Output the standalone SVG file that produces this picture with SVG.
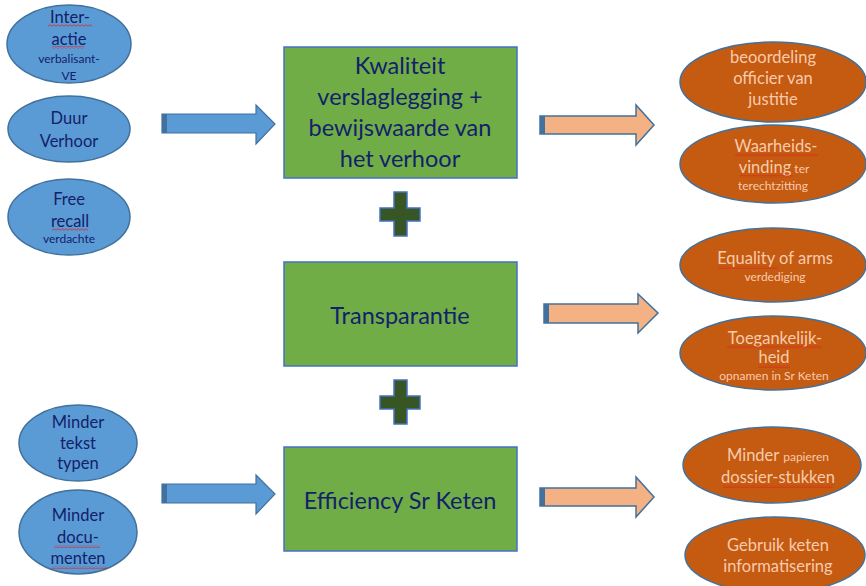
<svg xmlns="http://www.w3.org/2000/svg" width="866" height="586" viewBox="0 0 866 586">
<style>
.bg{fill:#ffffff}
.ein{fill:#5B9BD5;stroke:#41719C;stroke-width:1.5}
.eout{fill:#C55A11;stroke:#41719C;stroke-width:1.5}
.box{fill:#70AD47;stroke:#4472C4;stroke-width:1.5}
.arB{fill:#5B9BD5;stroke:#41719C;stroke-width:1.2}
.arO{fill:#F4B183;stroke:#41719C;stroke-width:1.5}
.strip{fill:#41719C}
.plus{fill:#375623;stroke:#4472C4;stroke-width:1.5}
text{font-family:Lato,"Liberation Sans",sans-serif;text-anchor:middle}
.tin{fill:#13216A;font-size:16.5px}
.tout{fill:#F8CBAD;font-size:16.5px}
.sm{font-size:12px}
.tbox{fill:#13216A;font-size:23.5px}
.wavy{fill:url(#wave)}
</style>
<defs>
<pattern id="wave" width="4" height="3" patternUnits="userSpaceOnUse">
<path d="M0,2.3 L2,0.7 L4,2.3" fill="none" stroke="#E02020" stroke-width="0.8"/>
</pattern>
</defs>
<rect class="bg" x="0" y="0" width="866" height="586"/>

<g id="connectors">
<g id="arrow-in-1"><polygon class="arB" points="162,114 256,114 256,105 275,124 256,144 256,133 162,133"/><rect class="strip" x="162" y="114" width="5" height="19"/></g>
<g id="arrow-in-2"><polygon class="arB" points="162,484 256,484 256,475 275,494 256,514 256,503 162,503"/><rect class="strip" x="162" y="484" width="5" height="19"/></g>
<g id="arrow-out-1"><polygon class="arO" points="540,116 636,116 636,105 654,125 636,145 636,134 540,134"/><rect class="strip" x="540" y="116" width="5" height="18"/></g>
<g id="arrow-out-2"><polygon class="arO" points="544,304 638,304 638,294 658,313 638,333 638,323 544,323"/><rect class="strip" x="544" y="304" width="5" height="19"/></g>
<g id="arrow-out-3"><polygon class="arO" points="540,488 636,488 636,477 654,497 636,517 636,506 540,506"/><rect class="strip" x="540" y="488" width="5" height="18"/></g>
<g id="plus-1"><polygon class="plus" points="394,192 407,192 407,208 420,208 420,221 407,221 407,236 394,236 394,221 380,221 380,208 394,208"/></g>
<g id="plus-2"><polygon class="plus" points="394,380 407,380 407,396 420,396 420,409 407,409 407,424 394,424 394,409 380,409 380,396 394,396"/></g>
</g>

<g id="in-interactie">
<ellipse class="ein" cx="69" cy="44" rx="62" ry="39"/>
<text class="tin"><tspan x="70" y="23">Inter-</tspan><tspan x="69" y="45">actie</tspan><tspan class="sm" x="69" y="63">verbalisant-</tspan><tspan class="sm" x="69" y="80">VE</tspan></text>
<rect class="wavy" x="48" y="24" width="44" height="3"/>
<rect class="wavy" x="52" y="46" width="32" height="3"/>
</g>

<g id="in-duur">
<ellipse class="ein" cx="69" cy="129" rx="61" ry="33"/>
<text class="tin"><tspan x="69" y="124">Duur</tspan><tspan x="69" y="147">Verhoor</tspan></text>
</g>

<g id="in-free-recall">
<ellipse class="ein" cx="69" cy="217" rx="61" ry="38"/>
<text class="tin"><tspan x="69" y="205">Free</tspan><tspan x="70" y="227">recall</tspan><tspan class="sm" x="69" y="243">verdachte</tspan></text>
<rect class="wavy" x="52" y="228" width="36" height="3"/>
</g>

<g id="in-minder-tekst">
<ellipse class="ein" cx="78" cy="443" rx="59" ry="38"/>
<text class="tin"><tspan x="78" y="428">Minder</tspan><tspan x="78" y="449">tekst</tspan><tspan x="78" y="469">typen</tspan></text>
</g>

<g id="in-minder-documenten">
<ellipse class="ein" cx="78" cy="532" rx="59" ry="42"/>
<text class="tin"><tspan x="78" y="521">Minder</tspan><tspan x="78" y="543">docu-</tspan><tspan x="78" y="564">menten</tspan></text>
<rect class="wavy" x="54" y="545" width="46" height="3"/>
<rect class="wavy" x="52" y="566" width="55" height="3"/>
</g>

<g id="box-kwaliteit">
<rect class="box" x="284" y="47" width="233" height="131"/>
<text class="tbox"><tspan x="400" y="74">Kwaliteit</tspan><tspan x="400" y="105">verslaglegging +</tspan><tspan x="400" y="136">bewijswaarde van</tspan><tspan x="400" y="167">het verhoor</tspan></text>
</g>

<g id="box-transparantie">
<rect class="box" x="284" y="262" width="233" height="104"/>
<text class="tbox" x="400" y="324">Transparantie</text>
</g>

<g id="box-efficiency">
<rect class="box" x="284" y="447" width="233" height="104"/>
<text class="tbox" x="400" y="509">Efficiency Sr Keten</text>
</g>

<g id="out-beoordeling">
<ellipse class="eout" cx="773" cy="82" rx="93" ry="40"/>
<text class="tout"><tspan x="773" y="63">beoordeling</tspan><tspan x="773" y="84">officier van</tspan><tspan x="773" y="105">justitie</tspan></text>
</g>

<g id="out-waarheidsvinding">
<ellipse class="eout" cx="773" cy="164" rx="93" ry="39"/>
<text class="tout"><tspan x="776" y="152">Waarheids-</tspan><tspan x="774" y="173">vinding<tspan class="sm"> ter</tspan></tspan><tspan class="sm" x="773" y="190">terechtzitting</tspan></text>
<rect class="wavy" x="735" y="154" width="83" height="3"/>
<rect class="wavy" x="740" y="175" width="53" height="3"/>
</g>

<g id="out-equality">
<ellipse class="eout" cx="773" cy="265" rx="93" ry="37"/>
<text class="tout"><tspan x="775" y="264">Equality of arms</tspan><tspan class="sm" x="775" y="281">verdediging</tspan></text>
<rect class="wavy" x="718" y="266" width="60" height="3"/>
</g>

<g id="out-toegankelijkheid">
<ellipse class="eout" cx="773" cy="353" rx="93" ry="37"/>
<text class="tout"><tspan x="775" y="344">Toegankelijk-</tspan><tspan x="774" y="363">heid</tspan><tspan class="sm" x="774" y="380">opnamen in Sr Keten</tspan></text>
<rect class="wavy" x="727" y="346" width="95" height="3"/>
<rect class="wavy" x="758" y="365" width="32" height="3"/>
</g>

<g id="out-minder-papieren">
<ellipse class="eout" cx="772" cy="465" rx="89" ry="38"/>
<text class="tout"><tspan x="778" y="461">Minder <tspan class="sm">papieren</tspan></tspan><tspan x="778" y="483">dossier-stukken</tspan></text>
<rect class="wavy" x="723" y="485" width="110" height="3"/>
</g>

<g id="out-gebruik-keten">
<ellipse class="eout" cx="775" cy="555" rx="90" ry="38"/>
<text class="tout"><tspan x="778" y="551">Gebruik keten</tspan><tspan x="778" y="572">informatisering</tspan></text>
</g>
</svg>
